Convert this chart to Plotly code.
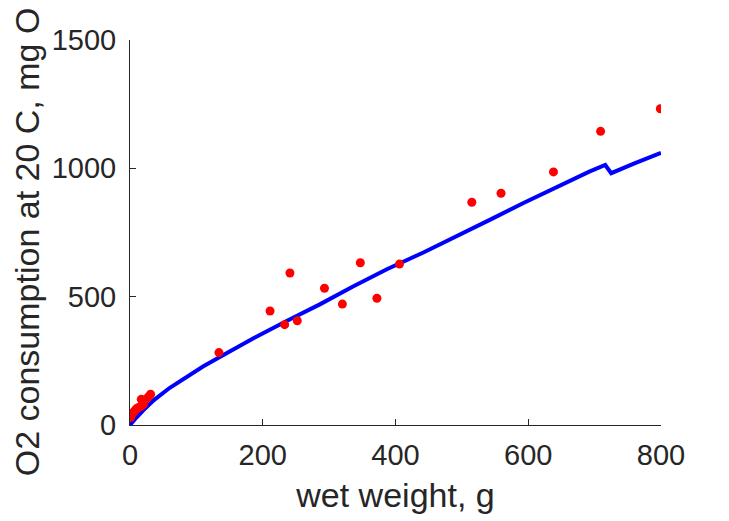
import plotly.graph_objects as go

# measured points: wet weight (g) vs O2 consumption at 20 C (mg O2)
weight = [1, 2, 4, 6, 8, 10, 13, 16, 17, 20, 22, 26, 28, 31,
          134, 211, 233, 241, 252, 293, 320, 347, 372, 406,
          515, 559, 638, 709, 799]
o2 = [30, 38, 45, 52, 58, 64, 68, 72, 100, 80, 96, 104, 110, 120,
      282, 444, 391, 592, 406, 533, 471, 632, 494, 627,
      868, 903, 986, 1144, 1232]

# fitted curve
fit_weight = [0, 3, 10, 20, 36, 60, 86, 110, 136, 186, 236, 286, 336, 387,
              442, 492, 542, 592, 642, 692, 716, 725, 760, 800]
fit_o2 = [0, 10, 30, 57, 97, 145, 188, 228, 266, 338, 405, 470, 540, 607,
          672, 734, 799, 864, 927, 987, 1013, 981, 1019, 1060]

ink = "#262626"
font = "Liberation Sans, Arial, Helvetica, sans-serif"

fig = go.Figure()
fig.add_trace(go.Scatter(
    x=fit_weight, y=fit_o2, mode="lines",
    line=dict(color="#0000ff", width=4), showlegend=False,
))
fig.add_trace(go.Scatter(
    x=weight, y=o2, mode="markers",
    marker=dict(color="#ff0000", size=9), showlegend=False,
))

axis_common = dict(
    showgrid=False, zeroline=False, showline=True, linecolor=ink, linewidth=1,
    ticks="inside", ticklen=6, tickcolor=ink, tickwidth=1,
    tickfont=dict(size=29, color=ink, family=font),
    mirror=False, automargin=False,
)
fig.update_xaxes(
    range=[0, 800], tickvals=[0, 200, 400, 600, 800],
    title=dict(text="wet weight, g", font=dict(size=34, color=ink, family=font), standoff=13),
    ticklabelstandoff=4, **axis_common,
)
fig.update_yaxes(
    range=[0, 1500], tickvals=[0, 500, 1000, 1500],
    title=dict(text="O2 consumption at 20 C, mg O2", font=dict(size=34, color=ink, family=font), standoff=20),
    ticklabelstandoff=7, **axis_common,
)
# page body adds 8px on the left/top, so the figure is 8px smaller
fig.update_layout(
    width=721, height=513,
    margin=dict(l=121.5, r=68, t=32, b=96),
    paper_bgcolor="white", plot_bgcolor="white",
    font=dict(family=font, color=ink),
)
fig.write_html("out.html")
